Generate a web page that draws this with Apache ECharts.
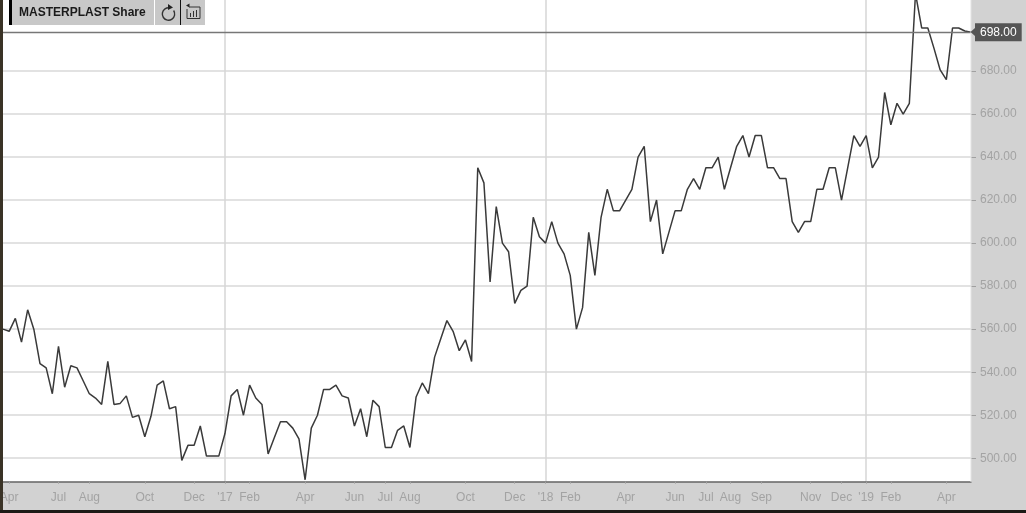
<!DOCTYPE html>
<html><head><meta charset="utf-8">
<style>html,body{margin:0;padding:0;background:#d2d2d2}#c{width:1026px;height:513px}</style>
<script src="https://cdn.jsdelivr.net/npm/echarts@6/dist/echarts.min.js"></script>
</head><body><div id="c"></div>
<script>
const seriesName = 'MASTERPLAST Share';
const prices = [
560,559,565,554,569,560,544,542,530,552,533,543,542,536,530,528,525,545,525,525.5,
529,519,520,510,519.5,534,536,523,524,499,506,506,515,501,501,501,511.5,529,532,520,
534,528,525,502,509.5,517,517,514,509,490,514,520,532,532,534,529,528,515,523,510,
527,524,505,505,513,515,505,528.5,535,530,547,555.5,564,559,550,555,545,635,628,582,
617,600,596,572,578,580,612,603,600,610,600,595,585,560,570,605,585,612,625,615,
615,620,625,640,645,610,620,595,605,615,615,625,630,625,635,635,640,625,635,645,
650,640,650,650,635,635,630,630,610,605,610,610,625,625,635,635,620,635,650,645,
650,635,640,670,655,665,660,665,716,700,700,690.5,680.5,676,700,700,698.6,698
];
const tickIndexes = [1,9,14,23,31,36,40,49,57,62,66,75,83,88,92,101,109,114,118,123,131,136,140,144,153];
const tickLabels = ['Apr','Jul','Aug','Oct','Dec',"'17",'Feb','Apr','Jun','Jul','Aug','Oct','Dec',"'18",'Feb','Apr','Jun','Jul','Aug','Sep','Nov','Dec',"'19",'Feb','Apr'];
const yearIndexes = [36,88,140];
const yLabels = [500,520,540,560,580,600,620,640,660,680];
const lastPrice = 698;

const categories = prices.map((_, i) => {
  const k = tickIndexes.indexOf(i);
  return k >= 0 ? tickLabels[k] : '';
});
const font = '"Liberation Sans", Arial, sans-serif';
const chart = echarts.init(document.getElementById('c'), null, {renderer:'canvas', width:1026, height:513});
chart.setOption({
  animation:false,
  backgroundColor:'#d2d2d2',
  grid:{left:3, top:0, width:968, height:481.7, show:true, backgroundColor:'#ffffff', borderWidth:0, containLabel:false, outerBoundsMode:'none'},
  xAxis:{
    type:'category', data:categories, boundaryGap:false, position:'bottom',
    axisLine:{show:true, lineStyle:{color:'#666666', width:1.5}},
    axisTick:{show:true, length:2, interval:(i)=>tickIndexes.includes(i), lineStyle:{color:'#a0a0a0'}},
    axisLabel:{show:true, interval:(i)=>tickIndexes.includes(i), color:'#a3a3a3', fontFamily:font, fontSize:12, margin:10, hideOverlap:false},
    splitLine:{show:true, interval:(i)=>yearIndexes.includes(i), lineStyle:{color:'#d6d6d6', width:1.5}}
  },
  yAxis:{
    type:'value', position:'right', min:489.1, max:713, scale:true,
    axisLine:{show:false},
    axisTick:{show:true, length:5, customValues:yLabels, lineStyle:{color:'#a0a0a0'}},
    axisLabel:{show:true, customValues:yLabels, formatter:(v)=>Number(v).toFixed(2), color:'#a3a3a3', fontFamily:font, fontSize:12, margin:9, padding:[2,0,0,0]},
    splitLine:{show:true, lineStyle:{color:'#d8d8d8', width:1.5}}
  },
  series:[{
    name:seriesName, type:'line', data:prices, symbol:'none', smooth:false, clip:true,
    lineStyle:{color:'#3a3a3a', width:1.5},
    markLine:{
      silent:true, symbol:'none', animation:false,
      lineStyle:{color:'#777777', width:1.4, type:'solid'},
      data:[{yAxis:lastPrice}],
      label:{show:true, position:'end', distance:4, formatter:()=>lastPrice.toFixed(2), color:'#ffffff', backgroundColor:'#555555', padding:[3,5,3,5], fontFamily:font, fontSize:12}
    }
  }],
  graphic:[
    {type:'rect', z:50, shape:{x:0,y:0,width:3,height:513}, style:{fill:'#3a3326'}},
    {type:'rect', z:50, shape:{x:0,y:510,width:1026,height:3}, style:{fill:'#1c1a16'}},
    {type:'rect', z:50, shape:{x:970.5,y:0,width:1,height:482}, style:{fill:'#e4e4e4'}},
    {type:'polygon', z:50, shape:{points:[[975,28],[975,36],[970.5,32]]}, style:{fill:'#555555'}},
    {type:'rect', z:50, shape:{x:9,y:0,width:145,height:25}, style:{fill:'#c8c8c8'}},
    {type:'rect', z:51, shape:{x:9,y:0,width:3,height:25}, style:{fill:'#000000'}},
    {type:'rect', z:50, shape:{x:155,y:0,width:50,height:25}, style:{fill:'#c8c8c8'}},
    {type:'rect', z:51, shape:{x:180,y:0,width:1,height:25}, style:{fill:'#111111'}},
    {type:'text', z:52, x:19, y:12.5, style:{text:seriesName, fill:'#1a1a1a', font:'bold 12px "Liberation Sans", Arial, sans-serif', textVerticalAlign:'middle', textBaseline:'middle'}},
    {type:'arc', z:52, shape:{cx:168.5,cy:14,r:6.2,startAngle:-0.6,endAngle:-1.57,clockwise:true}, style:{stroke:'#333333',lineWidth:1.4,fill:null}},
    {type:'polygon', z:52, shape:{points:[[168,4],[173,7.5],[168,10]]}, style:{fill:'#222222'}},
    {type:'polyline', z:52, shape:{points:[[189,7],[200,7],[200,18.5],[187,18.5],[187,9]]}, style:{stroke:'#333333',lineWidth:1,fill:null}},
    {type:'polygon', z:52, shape:{points:[[186,5.5],[189.5,3.5],[189.5,7.5]]}, style:{fill:'#222222'}},
    {type:'rect', z:52, shape:{x:190,y:13,width:1,height:4}, style:{fill:'#333333'}},
    {type:'rect', z:52, shape:{x:193,y:11,width:1,height:6}, style:{fill:'#333333'}},
    {type:'rect', z:52, shape:{x:196,y:10,width:1,height:7}, style:{fill:'#333333'}}
  ]
});
</script></body></html>
